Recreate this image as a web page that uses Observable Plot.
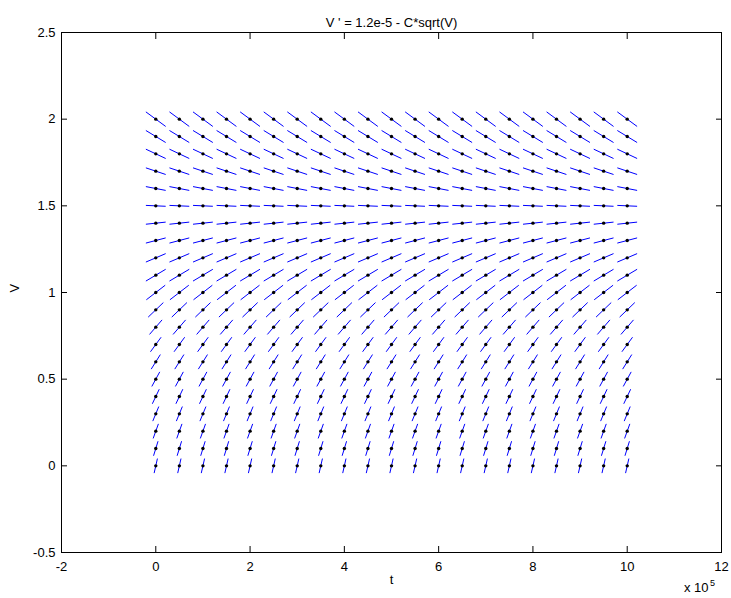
<!DOCTYPE html>
<html><head><meta charset="utf-8">
<script src="https://cdn.jsdelivr.net/npm/d3@7"></script>
<script src="https://cdn.jsdelivr.net/npm/@observablehq/plot@0.6"></script>
<style>html,body{margin:0;padding:0;background:#fff}</style>
</head><body><div id="chart"></div>
<script>
// grid of the direction field (t in units of 1e5)
const tValues = [0,0.5,1,1.5,2,2.5,3,3.5,4,4.5,5,5.5,6,6.5,7,7.5,8,8.5,9,9.5,10];
const vValues = [0,0.1,0.2,0.3,0.4,0.5,0.6,0.7,0.8,0.9,1,1.1,1.2,1.3,1.4,1.5,1.6,1.7,1.8,1.9,2];
// slope dV/dt of each row (V per 1e5 units of t), read from the segments
const rowSlopes = [1.2,0.887,0.757,0.658,0.574,0.5,0.433,0.372,0.315,0.261,0.21,0.162,0.116,0.071,0.029,-0.012,-0.052,-0.091,-0.128,-0.165,-0.2];
const xTicks = [-2,0,2,4,6,8,10,12];
const yTicks = [-0.5,0,0.5,1,1.5,2,2.5];
const titleText = "V ' = 1.2e-5 - C*sqrt(V)";
const xLabel = "t";
const yLabel = "V";
const xExpBase = "x 10";
const xExp = "5";

const dt = tValues[1] - tValues[0];
const dv = vValues[1] - vValues[0];
const k = 0.42;
const field = [];
vValues.forEach((v, i) => {
  const m = rowSlopes[i];
  const s = k * Math.min(dt, dv / Math.abs(m));
  tValues.forEach(t => field.push({t, v, x1: t - s, x2: t + s, y1: v - s * m, y2: v + s * m}));
});

const font = "'Liberation Sans', Arial, Helvetica, sans-serif";
const blank = () => "";
const chart = Plot.plot({
  width: 731, height: 598,
  marginLeft: 61, marginRight: 10, marginTop: 32, marginBottom: 46,
  x: {domain: [-2, 12]},
  y: {domain: [-0.5, 2.5]},
  style: {fontFamily: font, fontSize: "13px", color: "black", background: "white"},
  marks: [
    Plot.link(field, {x1: "x1", y1: "y1", x2: "x2", y2: "y2", stroke: "#0000ff", strokeWidth: 1}),
    Plot.dot(field, {x: "t", y: "v", r: 1.7, fill: "black", stroke: "none"}),
    Plot.frame({stroke: "black", strokeWidth: 1}),
    Plot.axisX(xTicks, {anchor: "bottom", tickSize: 6, dy: -6, tickFormat: blank, label: null}),
    Plot.axisX(xTicks, {anchor: "top", tickSize: 6, dy: 6, tickFormat: blank, label: null}),
    Plot.axisY(yTicks, {anchor: "left", tickSize: 6, dx: 6, tickFormat: blank, label: null}),
    Plot.axisY(yTicks, {anchor: "right", tickSize: 6, dx: -6, tickFormat: blank, label: null}),
    Plot.axisX(xTicks, {anchor: "bottom", tickSize: 0, tickPadding: 9, label: null, fontSize: 13, tickFormat: d => String(d)}),
    Plot.axisY(yTicks, {anchor: "left", tickSize: 0, tickPadding: 6, label: null, fontSize: 13, tickFormat: d => String(d)}),
    Plot.text([titleText], {frameAnchor: "top", dy: -15, fontSize: 13}),
    Plot.text([xLabel], {frameAnchor: "bottom", dy: 31, fontSize: 13}),
    Plot.text([yLabel], {frameAnchor: "left", dx: -47, rotate: -90, fontSize: 13}),
    Plot.text([xExpBase], {frameAnchor: "bottom-right", dx: -13, dy: 39, textAnchor: "end", fontSize: 13}),
    Plot.text([xExp], {frameAnchor: "bottom-right", dx: -9, dy: 33, textAnchor: "middle", fontSize: 9})
  ]
});
document.getElementById("chart").appendChild(chart);
</script>
</body></html>
